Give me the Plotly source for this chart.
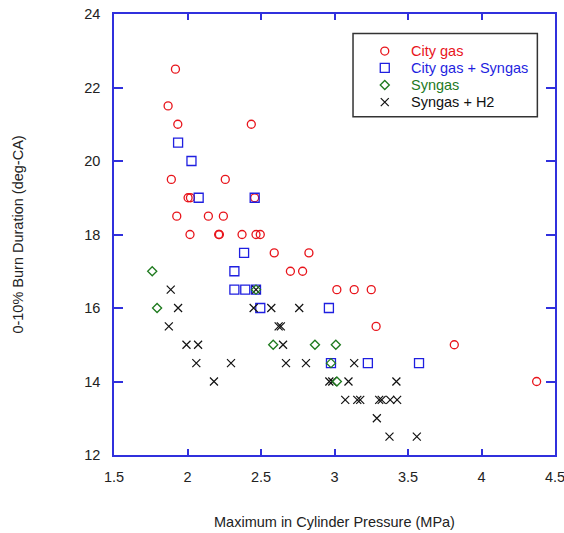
import plotly.graph_objects as go

# Maximum in-cylinder pressure (MPa) vs 0-10% burn duration (deg-CA)
city_gas_p = [1.918, 1.868, 1.934, 2.434, 1.890, 2.257, 2.004, 2.020, 2.457,
              1.927, 2.142, 2.244, 2.017, 2.212, 2.217, 2.371, 2.466, 2.495,
              2.590, 2.826, 2.700, 2.783, 3.016, 3.134, 3.250, 3.283, 3.815,
              4.375]
city_gas_d = [22.5, 21.5, 21.0, 21.0, 19.5, 19.5, 19.0, 19.0, 19.0,
              18.5, 18.5, 18.5, 18.0, 18.0, 18.0, 18.0, 18.0, 18.0,
              17.5, 17.5, 17.0, 17.0, 16.5, 16.5, 16.5, 15.5, 15.0,
              14.0]

city_syn_p = [1.936, 2.027, 2.076, 2.457, 2.385, 2.319, 2.319, 2.393, 2.466,
              2.495, 2.962, 2.976, 3.227, 3.575]
city_syn_d = [20.5, 20.0, 19.0, 19.0, 17.5, 17.0, 16.5, 16.5, 16.5,
              16.0, 16.0, 14.5, 14.5, 14.5]

syngas_p = [1.760, 1.793, 2.466, 2.583, 2.867, 3.009, 2.976, 3.016]
syngas_d = [17.0, 16.0, 16.5, 15.0, 15.0, 15.0, 14.5, 14.0]

syn_h2_p = [1.886, 2.466, 1.936, 2.450, 2.570, 2.760, 1.873, 2.620, 2.635,
            1.993, 2.072, 2.650, 2.060, 2.296, 2.670, 2.806, 3.134, 2.180,
            2.965, 2.985, 3.095, 3.421, 3.073, 3.155, 3.175, 3.304, 3.321,
            3.379, 3.426, 3.288, 3.374, 3.560]
syn_h2_d = [16.5, 16.5, 16.0, 16.0, 16.0, 16.0, 15.5, 15.5, 15.5,
            15.0, 15.0, 15.0, 14.5, 14.5, 14.5, 14.5, 14.5, 14.0,
            14.0, 14.0, 14.0, 14.0, 13.5, 13.5, 13.5, 13.5, 13.5,
            13.5, 13.5, 13.0, 12.5, 12.5]

x_ticks = [1.5, 2, 2.5, 3, 3.5, 4, 4.5]
y_ticks = [12, 14, 16, 18, 20, 22, 24]

series_names = ["City gas", "City gas + Syngas", "Syngas", "Syngas + H2"]

RED = "#e8141b"
BLUE = "#1f1fe0"
GREEN = "#1e7a1e"
BLACK = "#111111"
AXIS = "#3030dd"
FONT = "Liberation Sans, Arial"
FS = 14.5

styles = {
    "City gas": dict(symbol="circle-open", size=8, color=RED, width=1.3),
    "City gas + Syngas": dict(symbol="square-open", size=9, color=BLUE, width=1.3),
    "Syngas": dict(symbol="diamond-open", size=7, color=GREEN, width=1.3),
    "Syngas + H2": dict(symbol="x-thin-open", size=8, color=BLACK, width=1.2),
}


def marker(name):
    s = styles[name]
    return dict(symbol=s["symbol"], size=s["size"], color=s["color"],
                line=dict(width=s["width"], color=s["color"]))


series = {
    "City gas": (city_gas_p, city_gas_d),
    "City gas + Syngas": (city_syn_p, city_syn_d),
    "Syngas + H2": (syn_h2_p, syn_h2_d),
    "Syngas": (syngas_p, syngas_d),
}

fig = go.Figure()
for name, (px, dur) in series.items():
    fig.add_trace(go.Scatter(x=px, y=dur, mode="markers", name=name,
                             showlegend=False, marker=marker(name)))

# Boxed key in the upper right, drawn on an overlay axis spanning the plot area
key_x_sym = 0.614
key_x_txt = 0.669
key_rows = [0.916, 0.878, 0.839, 0.800]
for name, ky in zip(series_names, key_rows):
    fig.add_trace(go.Scatter(x=[key_x_sym], y=[ky], mode="markers", name=name,
                             xaxis="x2", yaxis="y2", showlegend=False,
                             hoverinfo="skip", marker=marker(name)))
    fig.add_annotation(x=key_x_txt, y=ky, xref="paper", yref="paper",
                       text=name, showarrow=False, xanchor="left", yanchor="middle",
                       font=dict(family=FONT, size=FS, color=styles[name]["color"]))

fig.add_shape(type="rect", xref="paper", yref="paper",
              x0=0.542, x1=0.960, y0=0.767, y1=0.956,
              line=dict(color="#333333", width=1.5), fillcolor="rgba(0,0,0,0)",
              layer="above")

axis_common = dict(
    showline=True, linecolor=AXIS, linewidth=1.5, mirror="ticks",
    ticks="inside", tickcolor=AXIS, tickwidth=1.5,
    showgrid=False, zeroline=False, automargin=False,
    ticklabeloverflow="allow",
    tickfont=dict(family=FONT, size=FS, color="#222222"),
)

fig.update_layout(
    width=564, height=533,
    margin=dict(l=113.5, r=9, t=14, b=78),
    paper_bgcolor="white", plot_bgcolor="white",
    font=dict(family=FONT, size=FS, color="#222222"),
    showlegend=False,
    xaxis=dict(
        range=[1.5, 4.5], tickvals=x_ticks, ticktext=[str(v) for v in x_ticks],
        ticklen=6, ticklabelstandoff=8,
        title=dict(text="Maximum in Cylinder Pressure (MPa)", standoff=33,
                   font=dict(family=FONT, size=FS, color="#222222")),
        **axis_common,
    ),
    yaxis=dict(
        range=[12, 24], tickvals=y_ticks, ticklen=9, ticklabelstandoff=9,
        title=dict(text="0-10% Burn Duration (deg-CA)", standoff=57,
                   font=dict(family=FONT, size=FS, color="#222222")),
        **axis_common,
    ),
    xaxis2=dict(range=[0, 1], domain=[0, 1], overlaying="x", visible=False,
                anchor="y2", fixedrange=True),
    yaxis2=dict(range=[0, 1], domain=[0, 1], overlaying="y", visible=False,
                anchor="x2", fixedrange=True),
)

fig.write_html("out.html")
